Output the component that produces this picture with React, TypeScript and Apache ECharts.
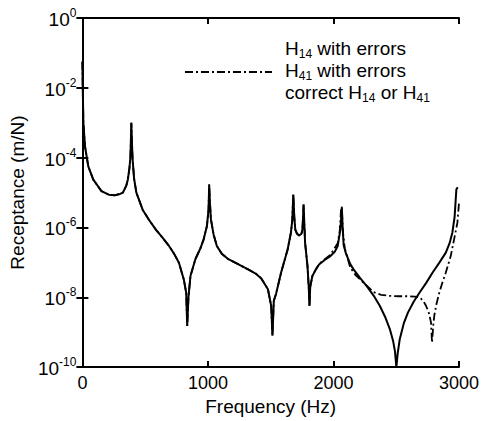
import React, { useEffect, useRef } from "react";
import * as echarts from "echarts";

// Frequency (Hz) and log10 receptance (m/N)
const correctFreq = [
  0, 3, 8, 21, 47, 87, 152, 210, 257, 300, 323, 350, 362, 375, 383, 390, 395, 400, 412, 430, 480, 530, 585, 640, 690, 730, 769, 808, 827, 835, 845, 861, 900, 940, 966, 992, 1005, 1010, 1016, 1024, 1045, 1071, 1110, 1163, 1240, 1320, 1380, 1425, 1478, 1504, 1514, 1525, 1543, 1583, 1635, 1661, 1672, 1680, 1688, 1696, 1710, 1727, 1745, 1753, 1758, 1762, 1768, 1774, 1793, 1803, 1809, 1815, 1832, 1860, 1885, 1930, 1976, 2010, 2034, 2055, 2062, 2067, 2073, 2081, 2100, 2134, 2160, 2213, 2265, 2320, 2370, 2410, 2449, 2475, 2490, 2501, 2512, 2528, 2560, 2593, 2640, 2685, 2740, 2790, 2845, 2895, 2925, 2947, 2965, 2979, 2990,
];
const correctLog = [
  -1.25, -2.0, -3.0, -3.68, -4.25, -4.63, -4.96, -5.06, -5.08, -5.04, -5.0, -4.8, -4.63, -4.3, -3.96, -3.0, -3.6, -4.05, -4.6, -5.0, -5.49, -5.78, -6.06, -6.3, -6.53, -6.75, -7.01, -7.49, -7.87, -8.82, -8.0, -7.39, -6.91, -6.6, -6.34, -5.96, -5.49, -4.77, -5.3, -5.77, -6.2, -6.53, -6.75, -6.91, -7.05, -7.2, -7.32, -7.46, -7.77, -8.25, -9.1, -8.1, -7.9, -7.29, -6.63, -6.15, -5.8, -5.06, -5.7, -6.06, -6.18, -6.23, -6.18, -6.05, -5.7, -5.34, -5.9, -6.44, -7.1, -7.7, -8.25, -7.7, -7.39, -7.2, -7.06, -6.93, -6.82, -6.7, -6.53, -6.06, -5.7, -5.44, -6.0, -6.5, -6.75, -7.05, -7.2, -7.45, -7.68, -7.95, -8.25, -8.55, -8.91, -9.25, -9.55, -10.0, -9.6, -9.2, -8.75, -8.44, -8.12, -7.87, -7.58, -7.29, -7.0, -6.72, -6.45, -6.15, -5.7, -4.91, -4.85,
];
// H41 with errors: departs from the correct curve above ~1900 Hz
const h41Freq = [
  1900, 1976, 2034, 2050, 2060, 2066, 2075, 2090, 2134, 2180, 2236, 2280, 2318, 2380, 2449, 2520, 2580, 2650, 2685, 2715, 2738, 2760, 2777, 2785, 2795, 2803, 2820, 2843, 2870, 2895, 2934, 2961, 2987, 3000,
];
const h41Log = [
  -7.0, -6.78, -6.45, -6.1, -5.5, -5.4, -6.1, -6.6, -7.15, -7.38, -7.57, -7.72, -7.85, -7.93, -7.96, -7.97, -7.97, -7.98, -8.0, -8.1, -8.25, -8.45, -8.72, -9.3, -8.8, -8.53, -8.2, -7.87, -7.55, -7.29, -6.82, -6.34, -5.87, -5.3,
];
const xTicks = [0, 1000, 2000, 3000];
const legendLabels = [
  "{m|H}{sub|14}{m| with errors}",
  "{m|H}{sub|41}{m| with errors}",
  "{m|correct H}{sub|14}{m| or H}{sub|41}",
];

const FONT = "'Liberation Sans', Arial, Helvetica, sans-serif";

export default function App() {
  const ref = useRef<HTMLDivElement>(null);
  useEffect(() => {
    document.body.style.margin = "0";
    const chart = echarts.init(ref.current!, null, { renderer: "svg" });
    const correct = correctFreq.map((f, i) => [f, Math.pow(10, correctLog[i])]);
    const h41 = correctFreq
      .map((f, i) => [f, Math.pow(10, correctLog[i])])
      .filter((p) => p[0] < h41Freq[0])
      .concat(h41Freq.map((f, i) => [f, Math.pow(10, h41Log[i])]));

    const axisLine = { show: true, lineStyle: { color: "#000", width: 2 } };
    const tick = { show: true, inside: true, length: 6, lineStyle: { color: "#000", width: 2 } };
    const yLabelFmt = (v: number) => {
      const e = Math.round(Math.log10(v));
      return `{b|10}{s|${e}}`;
    };

    chart.setOption({
      animation: false,
      backgroundColor: "#fff",
      grid: { left: 79, right: 30, top: 18, bottom: 53 },
      xAxis: [
        {
          type: "value",
          min: 0,
          max: 3000,
          interval: 1000,
          axisLine,
          axisTick: tick,
          splitLine: { show: false },
          axisLabel: {
            color: "#000",
            fontSize: 18,
            fontFamily: FONT,
            margin: 7,
            formatter: (v: number) => (xTicks.includes(v) ? String(v) : ""),
          },
          name: "Frequency (Hz)",
          nameLocation: "middle",
          nameGap: 28,
          nameTextStyle: { color: "#000", fontSize: 19, fontFamily: FONT },
        },
        {
          type: "value",
          position: "top",
          min: 0,
          max: 3000,
          interval: 1000,
          axisLine,
          axisTick: tick,
          axisLabel: { show: false },
          splitLine: { show: false },
        },
      ],
      yAxis: [
        {
          type: "log",
          logBase: 10,
          min: 1e-10,
          max: 1,
          interval: 2,
          axisLine,
          axisTick: tick,
          splitLine: { show: false },
          minorTick: { show: false },
          axisLabel: {
            margin: 6,
            formatter: yLabelFmt,
            rich: {
              b: { fontSize: 19, color: "#000", fontFamily: FONT, verticalAlign: "bottom", lineHeight: 22 },
              s: { fontSize: 12, color: "#000", fontFamily: FONT, verticalAlign: "top", lineHeight: 22 },
            },
          },
          name: "Receptance (m/N)",
          nameLocation: "middle",
          nameRotate: 90,
          nameGap: 44,
          nameTextStyle: { color: "#000", fontSize: 19, fontFamily: FONT },
        },
        {
          type: "log",
          logBase: 10,
          position: "right",
          min: 1e-10,
          max: 1,
          interval: 2,
          axisLine,
          axisTick: tick,
          axisLabel: { show: false },
          splitLine: { show: false },
        },
      ],
      series: [
        {
          name: "H41 with errors",
          type: "line",
          data: h41,
          showSymbol: false,
          z: 1,
          lineStyle: { color: "#000", width: 1.8, type: [8, 3, 2, 3] },
        },
        {
          name: "correct H14 or H41",
          type: "line",
          data: correct,
          showSymbol: false,
          z: 2,
          lineStyle: { color: "#000", width: 2 },
        },
      ],
      graphic: [
        ...legendLabels.map((t, i) => ({
          type: "text",
          left: 285,
          top: 39 + i * 22,
          style: {
            text: t,
            fontSize: 19,
            lineHeight: 21,
            fontFamily: FONT,
            fill: "#000",
            rich: {
              m: { fontSize: 19, fontFamily: FONT, fill: "#000", verticalAlign: "top", lineHeight: 21 },
              sub: { fontSize: 12, fontFamily: FONT, fill: "#000", verticalAlign: "bottom", lineHeight: 21 },
            },
          },
        })),
        {
          type: "line",
          shape: { x1: 185, y1: 72, x2: 272, y2: 72 },
          style: { stroke: "#000", lineWidth: 1.8, lineDash: [8, 3, 2, 3] },
        },
      ],
    });
    return () => chart.dispose();
  }, []);
  return (
    <div
      ref={ref}
      style={{ position: "absolute", left: 0, top: 0, width: 489, height: 421 }}
    />
  );
}
